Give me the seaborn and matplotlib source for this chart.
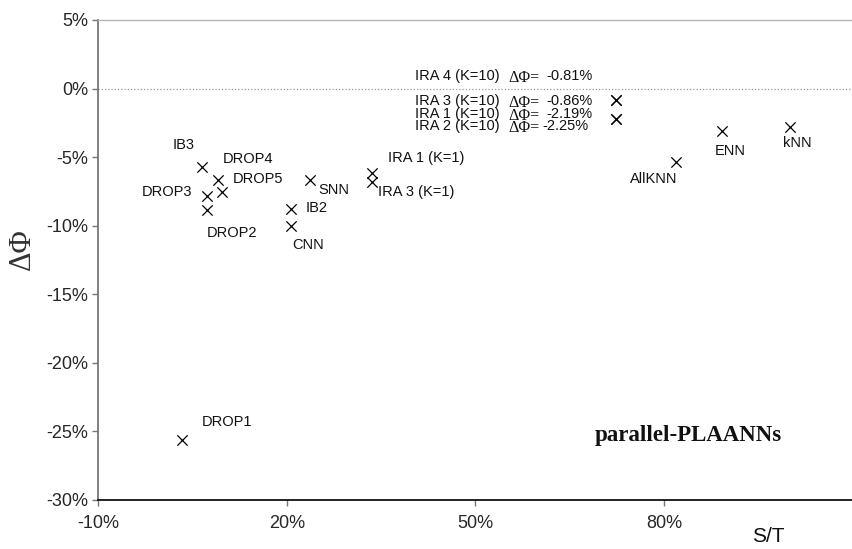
import matplotlib
matplotlib.use("Agg")
import matplotlib.pyplot as plt
import seaborn as sns
import pandas as pd

# Data: storage ratio S/T (%) vs. accuracy change ΔΦ (%)
methods = ["IB3", "DROP4", "DROP5", "DROP3", "DROP2", "IB2", "CNN", "SNN",
           "IRA 1 (K=1)", "IRA 3 (K=1)", "AllKNN", "ENN", "kNN", "DROP1",
           "IRA 4 (K=10)", "IRA 3 (K=10)", "IRA 1 (K=10)", "IRA 2 (K=10)"]
st_pct = [6.5, 9.1, 9.7, 7.3, 7.4, 20.6, 20.6, 23.7,
          33.5, 33.5, 81.9, 89.2, 100.0, 3.3,
          72.4, 72.4, 72.4, 72.4]
dphi_pct = [-5.69, -6.66, -7.52, -7.83, -8.85, -8.78, -10.0, -6.66,
            -6.18, -6.79, -5.33, -3.09, -2.78, -25.6,
            -0.81, -0.86, -2.19, -2.25]

x_ticks = [-10, 20, 50, 80]
y_ticks = [5, 0, -5, -10, -15, -20, -25, -30]

df = pd.DataFrame({"method": methods, "st": st_pct, "dphi": dphi_pct})

sns.set_style("white")
plt.rcParams["font.family"] = ["Liberation Sans", "DejaVu Sans"]

W, H = 853, 549
fig = plt.figure(figsize=(W / 100, H / 100), dpi=100)
ax = fig.add_axes([98 / W, 49 / H, (W - 98) / W, 480 / H])

ax.axhline(0, color="#9a9a9a", lw=0.9, ls=(0, (1, 1.6)), zorder=1)

sns.scatterplot(data=df, x="st", y="dphi", marker="x", color="black",
                s=55, linewidth=0.9, legend=False, ax=ax, zorder=3)

ax.set_xlim(-10, 110)
ax.set_ylim(-30, 5)
ax.set_xticks(x_ticks)
ax.set_xticklabels([f"{v}%" for v in x_ticks])
ax.set_yticks(y_ticks)
ax.set_yticklabels([f"{v}%" for v in y_ticks])
ax.set_xlabel("")
ax.set_ylabel("")

ax.tick_params(axis="y", direction="out", length=4, width=1, color="#777777",
               labelsize=13, pad=3, left=True)
ax.tick_params(axis="x", direction="out", length=4, width=1, color="#777777",
               labelsize=13, pad=7, bottom=True)

for side, col, lw in [("top", "#b5b5b5", 1.0), ("left", "#777777", 1.3),
                      ("bottom", "#111111", 1.3)]:
    ax.spines[side].set_visible(True)
    ax.spines[side].set_color(col)
    ax.spines[side].set_linewidth(lw)
ax.spines["right"].set_visible(False)

# Label offsets in pixels (dx, dy, alignment)
offsets = {
    "IB3": (-7, 22, "right"),
    "DROP4": (5, 21, "left"),
    "DROP5": (11, 13, "left"),
    "DROP3": (-15, 4, "right"),
    "DROP2": (-1, -23, "left"),
    "IB2": (15, 1, "left"),
    "CNN": (2, -19, "left"),
    "SNN": (8, -10, "left"),
    "IRA 1 (K=1)": (16, 15, "left"),
    "IRA 3 (K=1)": (6, -10, "left"),
    "AllKNN": (-22, -17, "center"),
    "ENN": (8, -20, "center"),
    "kNN": (7, -16, "center"),
    "DROP1": (20, 18, "left"),
}
k10_dy = {"IRA 4 (K=10)": 24, "IRA 3 (K=10)": -1,
          "IRA 1 (K=10)": 4.6, "IRA 2 (K=10)": -6.6}

for name, x, y in zip(methods, st_pct, dphi_pct):
    if name in offsets:
        dx, dy, ha = offsets[name]
        ax.annotate(name, (x, y), xytext=(dx, dy), textcoords="offset pixels",
                    ha=ha, va="center", fontsize=10.5, color="#111111")
    else:
        dy = k10_dy[name]
        ax.annotate(name, (x, y), xytext=(-201, dy), textcoords="offset pixels",
                    ha="left", va="center", fontsize=10.5, color="#111111")
        ax.annotate("ΔΦ=", (x, y), xytext=(-108, dy - 2), textcoords="offset pixels",
                    ha="left", va="center", fontsize=11.5, color="#111111",
                    family=["Liberation Serif", "DejaVu Serif"])
        vx = -74 if name == "IRA 2 (K=10)" else -70
        ax.annotate(f"{y:.2f}%", (x, y), xytext=(vx, dy), textcoords="offset pixels",
                    ha="left", va="center", fontsize=10.5, color="#111111")

fig.text(22 / W, 1 - 249 / H, "ΔΦ", rotation=90, ha="center", va="center",
         fontsize=22, color="#333333", family=["Liberation Serif", "DejaVu Serif"])
fig.text(768 / W, 1 - 536 / H, "S/T", ha="center", va="center",
         fontsize=15, color="#111111")
fig.text(595 / W, 1 - 435 / H, "parallel-PLAANNs", ha="left", va="center",
         fontsize=16.5, fontweight="bold", color="#111111",
         family=["Liberation Serif", "DejaVu Serif"])

fig.savefig("out.png", dpi=100, facecolor="white")
